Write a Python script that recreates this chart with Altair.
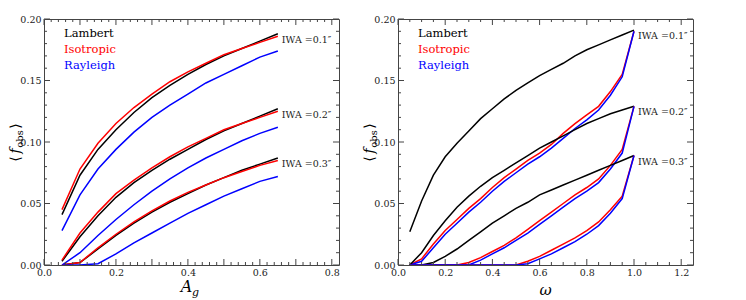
import altair as alt
import pandas as pd

SERIF = "DejaVu Serif"
FRAME = "#444444"
PHASES = ["Lambert", "Isotropic", "Rayleigh"]
COLORS = ["#000000", "#ff0000", "#0000ff"]
IWA = ["0.1", "0.2", "0.3"]

# ---- left panel: <f_obs> vs A_g ----
ag = [0.05, 0.10, 0.15, 0.20, 0.25, 0.30, 0.35, 0.40, 0.45, 0.50, 0.55, 0.60, 0.65]
ag_lam_01 = [0.041, 0.073, 0.094, 0.110, 0.124, 0.136, 0.146, 0.155, 0.163, 0.170, 0.176, 0.182, 0.188]
ag_iso_01 = [0.045, 0.078, 0.099, 0.115, 0.128, 0.139, 0.149, 0.157, 0.164, 0.171, 0.176, 0.181, 0.186]
ag_ray_01 = [0.028, 0.057, 0.078, 0.094, 0.108, 0.120, 0.130, 0.139, 0.148, 0.155, 0.162, 0.169, 0.174]
ag_lam_02 = [0.003, 0.023, 0.040, 0.055, 0.067, 0.077, 0.086, 0.094, 0.102, 0.109, 0.115, 0.121, 0.127]
ag_iso_02 = [0.004, 0.026, 0.043, 0.058, 0.069, 0.079, 0.088, 0.096, 0.103, 0.110, 0.115, 0.120, 0.125]
ag_ray_02 = [0.000, 0.010, 0.024, 0.037, 0.049, 0.060, 0.070, 0.079, 0.087, 0.094, 0.101, 0.107, 0.112]
ag_lam_03 = [0.000, 0.002, 0.013, 0.024, 0.034, 0.043, 0.051, 0.058, 0.065, 0.071, 0.077, 0.082, 0.087]
ag_iso_03 = [0.000, 0.002, 0.014, 0.025, 0.035, 0.044, 0.052, 0.059, 0.065, 0.071, 0.076, 0.081, 0.085]
ag_ray_03 = [0.000, 0.000, 0.001, 0.009, 0.018, 0.026, 0.034, 0.042, 0.049, 0.056, 0.062, 0.068, 0.072]

# ---- right panel: <f_obs> vs omega ----
om = [0.05, 0.10, 0.15, 0.20, 0.25, 0.30, 0.35, 0.40, 0.45, 0.50,
      0.55, 0.60, 0.65, 0.70, 0.75, 0.80, 0.85, 0.90, 0.95, 1.00]
om_lam_01 = [0.027, 0.052, 0.073, 0.088, 0.099, 0.109, 0.119, 0.127, 0.135, 0.142,
             0.148, 0.154, 0.159, 0.164, 0.170, 0.175, 0.179, 0.183, 0.187, 0.191]
om_iso_01 = [0.000, 0.005, 0.017, 0.028, 0.037, 0.046, 0.054, 0.063, 0.071, 0.078,
             0.085, 0.091, 0.098, 0.107, 0.115, 0.122, 0.129, 0.141, 0.155, 0.190]
om_ray_01 = [0.000, 0.003, 0.014, 0.025, 0.034, 0.043, 0.051, 0.060, 0.068, 0.075,
             0.082, 0.088, 0.095, 0.103, 0.111, 0.118, 0.126, 0.138, 0.153, 0.190]
om_lam_02 = [0.000, 0.010, 0.024, 0.036, 0.047, 0.056, 0.064, 0.071, 0.077, 0.083,
             0.089, 0.095, 0.100, 0.105, 0.110, 0.115, 0.119, 0.123, 0.126, 0.129]
om_iso_02 = [0.000, 0.000, 0.000, 0.000, 0.000, 0.002, 0.006, 0.011, 0.016, 0.022,
             0.029, 0.036, 0.043, 0.050, 0.057, 0.063, 0.070, 0.081, 0.094, 0.129]
om_ray_02 = [0.000, 0.000, 0.000, 0.000, 0.000, 0.000, 0.004, 0.009, 0.014, 0.020,
             0.026, 0.033, 0.040, 0.047, 0.054, 0.060, 0.067, 0.078, 0.091, 0.129]
om_lam_03 = [0.000, 0.000, 0.002, 0.007, 0.013, 0.020, 0.027, 0.034, 0.040, 0.046,
             0.051, 0.057, 0.061, 0.065, 0.069, 0.073, 0.077, 0.081, 0.085, 0.089]
om_iso_03 = [0.000, 0.000, 0.000, 0.000, 0.000, 0.000, 0.000, 0.000, 0.000, 0.000,
             0.003, 0.007, 0.012, 0.017, 0.022, 0.028, 0.035, 0.045, 0.056, 0.089]
om_ray_03 = [0.000, 0.000, 0.000, 0.000, 0.000, 0.000, 0.000, 0.000, 0.000, 0.000,
             0.001, 0.005, 0.009, 0.014, 0.019, 0.025, 0.032, 0.042, 0.054, 0.089]

y_major = [0.00, 0.05, 0.10, 0.15, 0.20]
y_minor = [0.01, 0.02, 0.03, 0.04, 0.06, 0.07, 0.08, 0.09, 0.11, 0.12, 0.13, 0.14, 0.16, 0.17, 0.18, 0.19]
ag_major = [0.0, 0.1, 0.2, 0.3, 0.4, 0.5, 0.6, 0.7, 0.8]
ag_minor = [0.02, 0.04, 0.06, 0.08, 0.12, 0.14, 0.16, 0.18, 0.22, 0.24, 0.26, 0.28, 0.32, 0.34, 0.36, 0.38,
            0.42, 0.44, 0.46, 0.48, 0.52, 0.54, 0.56, 0.58, 0.62, 0.64, 0.66, 0.68, 0.72, 0.74, 0.76, 0.78]
om_major = [0.0, 0.2, 0.4, 0.6, 0.8, 1.0, 1.2]
om_minor = [0.05, 0.10, 0.15, 0.25, 0.30, 0.35, 0.45, 0.50, 0.55, 0.65, 0.70, 0.75, 0.85, 0.90, 0.95,
            1.05, 1.10, 1.15]

W, H = 295, 246


def long_df(xs, series):
    rows = []
    for iwa, phase, vals in series:
        for xv, yv in zip(xs, vals):
            rows.append({"x": xv, "y": yv, "phase": phase, "iwa": iwa})
    return pd.DataFrame(rows)


left_df = long_df(ag, [
    ("0.1", "Lambert", ag_lam_01), ("0.1", "Isotropic", ag_iso_01), ("0.1", "Rayleigh", ag_ray_01),
    ("0.2", "Lambert", ag_lam_02), ("0.2", "Isotropic", ag_iso_02), ("0.2", "Rayleigh", ag_ray_02),
    ("0.3", "Lambert", ag_lam_03), ("0.3", "Isotropic", ag_iso_03), ("0.3", "Rayleigh", ag_ray_03),
])
right_df = long_df(om, [
    ("0.1", "Lambert", om_lam_01), ("0.1", "Isotropic", om_iso_01), ("0.1", "Rayleigh", om_ray_01),
    ("0.2", "Lambert", om_lam_02), ("0.2", "Isotropic", om_iso_02), ("0.2", "Rayleigh", om_ray_02),
    ("0.3", "Lambert", om_lam_03), ("0.3", "Isotropic", om_iso_03), ("0.3", "Rayleigh", om_ray_03),
])


def one():
    return pd.DataFrame({"t": [0]})


def txt(x, y, s, size, style="normal", angle=0, color="#000000", align="center"):
    kw = dict(font=SERIF, fontSize=size, fontStyle=style, align=align, baseline="middle", color=color)
    if angle:
        kw["angle"] = angle
    return alt.Chart(one()).mark_text(**kw).encode(
        x=alt.value(x), y=alt.value(y), text=alt.value(s))


def panel(df, xdom, xmaj, xmin, xtitle_parts, ytitle_x):
    xs = alt.Scale(domain=xdom, nice=False, zero=False)
    ys = alt.Scale(domain=[0, 0.2], nice=False, zero=False)
    lab = dict(labelFont=SERIF, labelFontSize=9.5, labelColor="#222222", ticks=False, domain=False,
               grid=False, title=None, labelFlush=False, labelOverlap=False)
    lines = alt.Chart(df).mark_line(strokeWidth=1.5, clip=True).encode(
        x=alt.X("x:Q", scale=xs, axis=alt.Axis(values=xmaj, format=".1f", labelPadding=2, **lab)),
        y=alt.Y("y:Q", scale=ys, axis=alt.Axis(values=y_major, format=".2f", labelPadding=3, **lab)),
        color=alt.Color("phase:N", scale=alt.Scale(domain=PHASES, range=COLORS), legend=None),
        detail="iwa:N",
    )
    layers = [lines]
    # inside ticks on all four sides
    for vals, ln in ((xmaj, 6), (xmin, 3)):
        tdf = pd.DataFrame({"x": vals})
        base = alt.Chart(tdf).mark_rule(color=FRAME, strokeWidth=1)
        layers.append(base.encode(x=alt.X("x:Q", scale=xs), y=alt.value(H), y2=alt.value(H - ln)))
        layers.append(base.encode(x=alt.X("x:Q", scale=xs), y=alt.value(0), y2=alt.value(ln)))
    for vals, ln in ((y_major, 6), (y_minor, 3)):
        tdf = pd.DataFrame({"y": vals})
        base = alt.Chart(tdf).mark_rule(color=FRAME, strokeWidth=1)
        layers.append(base.encode(y=alt.Y("y:Q", scale=ys), x=alt.value(0), x2=alt.value(ln)))
        layers.append(base.encode(y=alt.Y("y:Q", scale=ys), x=alt.value(W), x2=alt.value(W - ln)))
    # IWA labels at the end of the Lambert curves
    ends = df[df.phase == "Lambert"].groupby("iwa", as_index=False).last()
    ends["label"] = "IWA =" + ends["iwa"] + "″"
    layers.append(alt.Chart(ends).mark_text(font=SERIF, fontSize=9.5, align="left", baseline="middle",
                                            dx=4, dy=6, color="#222222").encode(
        x=alt.X("x:Q", scale=xs), y=alt.Y("y:Q", scale=ys), text="label:N"))
    # text legend
    for i, (p, c) in enumerate(zip(PHASES, COLORS)):
        layers.append(txt(20, 15 + 16 * i, p, 11.5, color=c, align="left"))
    # y title  <f_obs>
    yc = H / 2
    layers.append(txt(ytitle_x, yc + 17, "⟨", 14, angle=270))
    layers.append(txt(ytitle_x, yc + 9, "f", 14, style="italic", angle=270))
    layers.append(txt(ytitle_x + 4, yc - 3, "obs", 10, angle=270))
    layers.append(txt(ytitle_x, yc - 16, "⟩", 14, angle=270))
    # x title
    for (dxp, dyp, s, size, style) in xtitle_parts:
        layers.append(txt(W / 2 + dxp, H + dyp, s, size, style=style))
    return alt.layer(*layers).properties(width=W, height=H)


left = panel(left_df, [0, 0.82], ag_major, ag_minor,
             [(-5, 22, "A", 16, "italic"), (4, 28, "g", 11, "italic")], -28.5)
right = panel(right_df, [0, 1.25], om_major, om_minor,
              [(0, 25, "ω", 15, "italic")], -28.5)

chart = alt.hconcat(left, right, spacing=22).properties(
    padding={"left": 0, "top": 5, "right": 0, "bottom": 0}
).configure_view(stroke=FRAME, strokeWidth=1)

chart.save("out.html", embed_options={"renderer": "svg", "actions": False})
